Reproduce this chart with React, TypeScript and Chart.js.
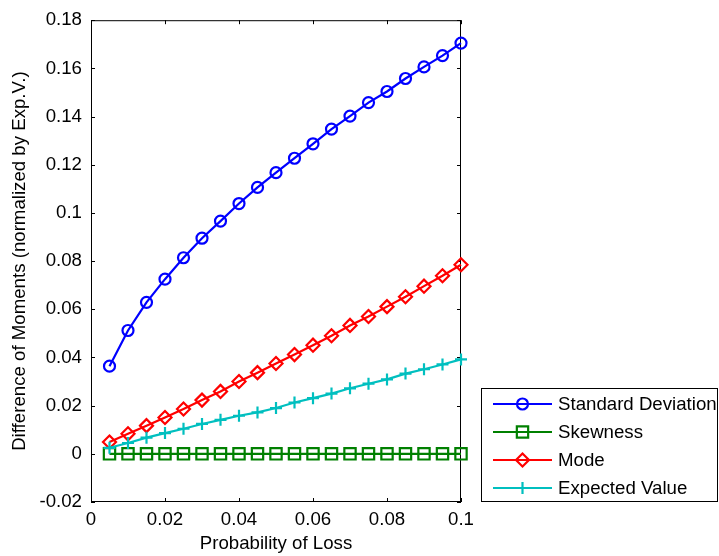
import { useEffect, useRef } from "react";
import { Chart, registerables } from "chart.js";

Chart.register(...registerables);

// Probability of loss (x) and the four moment differences, normalized by the expected value
const probabilityOfLoss = [
  0.005, 0.01, 0.015, 0.02, 0.025, 0.03, 0.035, 0.04, 0.045, 0.05,
  0.055, 0.06, 0.065, 0.07, 0.075, 0.08, 0.085, 0.09, 0.095, 0.1,
];
const standardDeviation = [
  0.0364, 0.0512, 0.0629, 0.0725, 0.0814, 0.0895, 0.0966, 0.1039, 0.1106, 0.1167,
  0.1227, 0.1287, 0.1348, 0.1402, 0.1458, 0.1504, 0.1558, 0.1606, 0.1653, 0.1705,
];
const skewness = [
  0, 0, 0, 0, 0, 0, 0, 0, 0, 0,
  0, 0, 0, 0, 0, 0, 0, 0, 0, 0,
];
const mode = [
  0.0049, 0.0083, 0.0117, 0.0151, 0.0186, 0.0223, 0.0259, 0.03, 0.0337, 0.0375,
  0.0412, 0.0451, 0.049, 0.0533, 0.057, 0.0611, 0.0652, 0.0696, 0.0739, 0.0785,
];
const expectedValue = [
  0.0025, 0.0045, 0.0067, 0.0086, 0.0104, 0.0124, 0.0141, 0.0158, 0.0172, 0.019,
  0.0213, 0.0231, 0.025, 0.0272, 0.0291, 0.0309, 0.0333, 0.0351, 0.0371, 0.0392,
];

const xTickValues = [0, 0.02, 0.04, 0.06, 0.08, 0.1];
const yTickValues = [-0.02, 0, 0.02, 0.04, 0.06, 0.08, 0.1, 0.12, 0.14, 0.16, 0.18];

const seriesLabels = ["Standard Deviation", "Skewness", "Mode", "Expected Value"];

const FONT_FAMILY = '"Liberation Sans", Arial, Helvetica, sans-serif';
const FONT_SIZE = 18.67;
const WIDTH = 719;
const HEIGHT = 556;
const LINE_WIDTH = 2.2;

const fmt = (v: number) => String(Number(v.toFixed(4)));

function drawMarker(
  ctx: CanvasRenderingContext2D,
  style: string,
  x: number,
  y: number,
  r: number
) {
  ctx.beginPath();
  if (style === "circle") {
    ctx.arc(x, y, r, 0, Math.PI * 2);
  } else if (style === "rect") {
    const s = Math.SQRT1_2 * r;
    ctx.rect(x - s, y - s, 2 * s, 2 * s);
  } else if (style === "rectRot") {
    ctx.moveTo(x - r, y);
    ctx.lineTo(x, y - r);
    ctx.lineTo(x + r, y);
    ctx.lineTo(x, y + r);
    ctx.closePath();
  } else if (style === "cross") {
    ctx.moveTo(x - r, y);
    ctx.lineTo(x + r, y);
    ctx.moveTo(x, y - r);
    ctx.lineTo(x, y + r);
  }
  ctx.stroke();
}

// Box around the axes with inward tick marks on all four sides
const axesFrame = {
  id: "axesFrame",
  beforeDatasetsDraw(chart: any) {
    const { ctx, chartArea, scales } = chart;
    const { left, right, top, bottom } = chartArea;
    const tick = 4;
    ctx.save();
    ctx.strokeStyle = "#000";
    ctx.lineWidth = 1;
    ctx.strokeRect(left + 0.5, top + 0.5, right - left - 1, bottom - top - 1);
    ctx.beginPath();
    for (const v of xTickValues) {
      const px = Math.round(scales.x.getPixelForValue(v)) + 0.5;
      ctx.moveTo(px, bottom);
      ctx.lineTo(px, bottom - tick);
      ctx.moveTo(px, top);
      ctx.lineTo(px, top + tick);
    }
    for (const v of yTickValues) {
      const py = Math.round(scales.y.getPixelForValue(v)) + 0.5;
      ctx.moveTo(left, py);
      ctx.lineTo(left + tick, py);
      ctx.moveTo(right, py);
      ctx.lineTo(right - tick, py);
    }
    ctx.stroke();
    ctx.restore();
  },
};

// Legend box placed to the right of the axes, near the bottom
const sideLegend = {
  id: "sideLegend",
  afterDraw(chart: any) {
    const { ctx, chartArea } = chart;
    const boxLeft = chartArea.right + 20;
    const boxTop = 388;
    const boxRight = WIDTH - 1;
    const boxBottom = chartArea.bottom;
    const rowStart = 404;
    const rowGap = 28;
    ctx.save();
    ctx.fillStyle = "#fff";
    ctx.fillRect(boxLeft, boxTop, boxRight - boxLeft, boxBottom - boxTop);
    ctx.strokeStyle = "#000";
    ctx.lineWidth = 1;
    ctx.strokeRect(boxLeft + 0.5, boxTop + 0.5, boxRight - boxLeft - 1, boxBottom - boxTop - 1);
    ctx.font = `${FONT_SIZE}px ${FONT_FAMILY}`;
    ctx.textBaseline = "middle";
    ctx.textAlign = "left";
    chart.data.datasets.forEach((ds: any, i: number) => {
      const y = rowStart + i * rowGap;
      const x0 = boxLeft + 12;
      const x1 = boxLeft + 71;
      ctx.strokeStyle = ds.borderColor;
      ctx.lineWidth = LINE_WIDTH;
      ctx.beginPath();
      ctx.moveTo(x0, y);
      ctx.lineTo(x1, y);
      ctx.stroke();
      drawMarker(ctx, ds.pointStyle, (x0 + x1) / 2, y, ds.pointRadius);
      ctx.fillStyle = "#000";
      ctx.fillText(ds.label, boxLeft + 77, y + 1);
    });
    ctx.restore();
  },
};

export default function App() {
  const canvasRef = useRef<HTMLCanvasElement | null>(null);

  useEffect(() => {
    const canvas = canvasRef.current;
    if (!canvas) return;

    const toPoints = (ys: number[]) => probabilityOfLoss.map((x, i) => ({ x, y: ys[i] }));
    const common = {
      backgroundColor: "transparent",
      borderWidth: LINE_WIDTH,
      pointBorderWidth: LINE_WIDTH,
      pointBackgroundColor: "transparent",
      tension: 0,
      clip: false as const,
    };

    const chart = new Chart(canvas, {
      type: "line",
      data: {
        datasets: [
          {
            ...common,
            label: seriesLabels[0],
            data: toPoints(standardDeviation),
            borderColor: "#0000ff",
            pointBorderColor: "#0000ff",
            pointStyle: "circle",
            pointRadius: 5.5,
            order: 4,
          },
          {
            ...common,
            label: seriesLabels[1],
            data: toPoints(skewness),
            borderColor: "#008000",
            pointBorderColor: "#008000",
            pointStyle: "rect",
            pointRadius: 8,
            order: 3,
          },
          {
            ...common,
            label: seriesLabels[2],
            data: toPoints(mode),
            borderColor: "#ff0000",
            pointBorderColor: "#ff0000",
            pointStyle: "rectRot",
            pointRadius: 6.5,
            order: 2,
          },
          {
            ...common,
            label: seriesLabels[3],
            data: toPoints(expectedValue),
            borderColor: "#00bfbf",
            pointBorderColor: "#00bfbf",
            pointStyle: "cross",
            pointRadius: 6,
            order: 1,
          },
        ],
      },
      options: {
        animation: false,
        responsive: false,
        devicePixelRatio: 1,
        layout: { padding: { left: 0, top: 15, right: WIDTH - 461, bottom: 0 } },
        plugins: {
          legend: { display: false },
          tooltip: { enabled: false },
        },
        font: { family: FONT_FAMILY, size: FONT_SIZE },
        scales: {
          x: {
            type: "linear",
            min: 0,
            max: 0.1,
            grid: { display: false, drawTicks: false },
            border: { display: false },
            afterBuildTicks: (s: any) => {
              s.ticks = xTickValues.map((value) => ({ value }));
            },
            afterFit: (s: any) => {
              s.height = HEIGHT - 502;
            },
            ticks: {
              padding: 7,
              color: "#000",
              maxRotation: 0,
              autoSkip: false,
              font: { family: FONT_FAMILY, size: FONT_SIZE },
              callback: (v: any) => fmt(Number(v)),
            },
            title: {
              display: true,
              text: "Probability of Loss",
              color: "#000",
              font: { family: FONT_FAMILY, size: FONT_SIZE },
              padding: { top: 0, bottom: 1 },
            },
          },
          y: {
            type: "linear",
            min: -0.02,
            max: 0.18,
            grid: { display: false, drawTicks: false },
            border: { display: false },
            afterBuildTicks: (s: any) => {
              s.ticks = yTickValues.map((value) => ({ value }));
            },
            afterFit: (s: any) => {
              s.width = 91;
            },
            ticks: {
              padding: 9,
              color: "#000",
              autoSkip: false,
              font: { family: FONT_FAMILY, size: FONT_SIZE },
              callback: (v: any) => fmt(Number(v)),
            },
            title: {
              display: true,
              text: "Difference of Moments (normalized by Exp.V.)",
              color: "#000",
              font: { family: FONT_FAMILY, size: FONT_SIZE },
              padding: { top: 9, bottom: 0 },
            },
          },
        },
      },
      plugins: [axesFrame, sideLegend],
    });

    return () => chart.destroy();
  }, []);

  return (
    <div style={{ position: "fixed", left: 0, top: 0, width: WIDTH, height: HEIGHT, background: "#fff" }}>
      <canvas ref={canvasRef} width={WIDTH} height={HEIGHT} style={{ display: "block" }} />
    </div>
  );
}
